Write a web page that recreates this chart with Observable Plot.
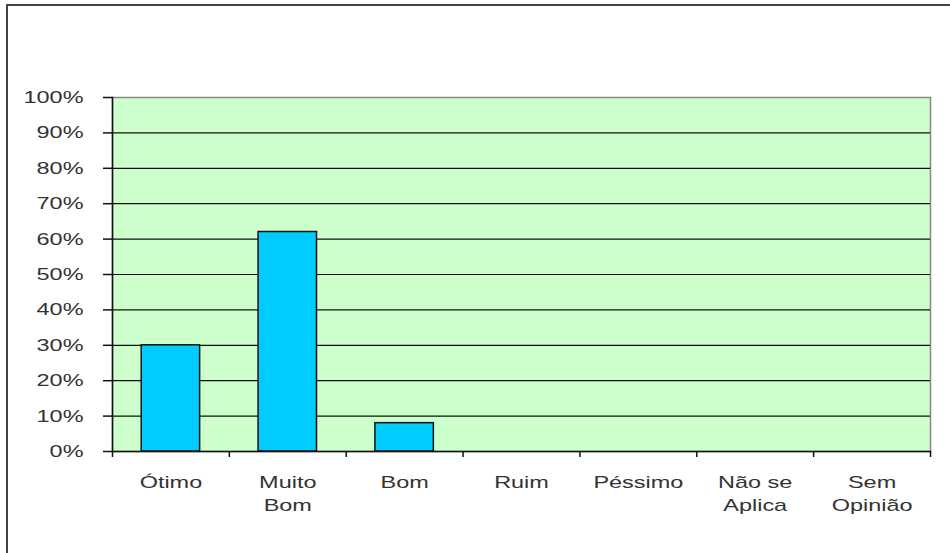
<!DOCTYPE html>
<html>
<head>
<meta charset="utf-8">
<script src="https://cdn.jsdelivr.net/npm/d3@7"></script>
<script src="https://cdn.jsdelivr.net/npm/@observablehq/plot@0.6"></script>
<style>
  html, body { margin: 0; padding: 0; background: #fff; }
  #wrap { position: relative; width: 950px; height: 553px; overflow: hidden; }
  #border { position: absolute; left: 6px; top: 4px; right: -2px; bottom: -2px;
            border-top: 2px solid #444; border-left: 2px solid #444; pointer-events: none; }
</style>
</head>
<body>
<div id="wrap"><div id="border"></div></div>
<script>
const categories = ["Ótimo", "Muito\nBom", "Bom", "Ruim", "Péssimo", "Não se\nAplica", "Sem\nOpinião"];
const values = [0.30, 0.62, 0.08, 0, 0, 0, 0];
const yTicks = [0, 0.1, 0.2, 0.3, 0.4, 0.5, 0.6, 0.7, 0.8, 0.9, 1.0];
const gridValues = [0.1, 0.2, 0.3, 0.4, 0.5, 0.6, 0.7, 0.8, 0.9];

const data = categories.map((c, i) => ({category: c, value: values[i]}));

const W = 950, H = 553, mL = 112, mR = 20, mT = 97, mB = 102;
const bw = (W - mL - mR) / categories.length;
const FS = 17;

const chart = Plot.plot({
  width: W,
  height: H,
  marginLeft: mL,
  marginRight: mR,
  marginTop: mT,
  marginBottom: mB,
  style: {fontFamily: "'Liberation Sans', Arial, sans-serif", fontSize: FS + "px", color: "#333", background: "transparent"},
  x: {domain: categories, padding: 0, round: false, label: null},
  y: {domain: [0, 1], label: null},
  marks: [
    Plot.frame({fill: "#CCFFCC", stroke: "#888", strokeWidth: 1.5}),
    Plot.ruleY(gridValues, {stroke: "#111", strokeWidth: 1.2}),
    Plot.barY(data.filter(d => d.value > 0), {x: "category", y: "value", fill: "#00CCFF", stroke: "#111", strokeWidth: 1.5, insetLeft: bw / 4, insetRight: bw / 4}),
    Plot.frame({anchor: "left", stroke: "#111", strokeWidth: 1.5}),
    Plot.frame({anchor: "bottom", stroke: "#111", strokeWidth: 1.5}),
    Plot.axisY({ticks: yTicks, tickFormat: d3.format(".0%"), tickSize: 9, tickPadding: 20, stroke: "#111", strokeWidth: 1.5, fill: "#333", fontSize: FS, label: null}),
    Plot.axisX({tickSize: 0, tickPadding: 20, fontSize: FS, lineHeight: 1.35, fill: "#333", label: null}),
    Plot.ruleX(categories, {x: d => d, dx: -bw / 2, insetTop: (H - mT - mB) - 6, dy: 6, stroke: "#111", strokeWidth: 1.5}),
    Plot.ruleX(categories.slice(-1), {x: d => d, dx: bw / 2, insetTop: (H - mT - mB) - 6, dy: 6, stroke: "#111", strokeWidth: 1.5})
  ]
});

document.getElementById("wrap").insertBefore(chart, document.getElementById("border"));

// Stretch the labels horizontally (the reference glyphs are wide), keeping each anchor in place.
const SX = 1.38;
chart.querySelectorAll("text").forEach(t => {
  const b = t.getBBox();
  const anchor = getComputedStyle(t).textAnchor;
  const ax = anchor === "end" ? b.x + b.width : anchor === "middle" ? b.x + b.width / 2 : b.x;
  const prev = t.getAttribute("transform") || "";
  t.setAttribute("transform", `${prev} translate(${ax},0) scale(${SX},1) translate(${-ax},0)`.trim());
});
</script>
</body>
</html>
